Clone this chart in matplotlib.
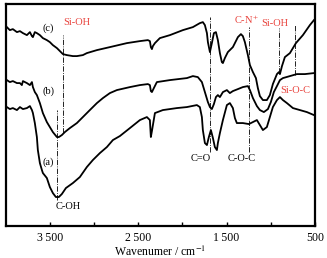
import numpy as np
import matplotlib
matplotlib.use('Agg')
import matplotlib.pyplot as plt
from matplotlib.ticker import FixedLocator

plt.rcParams['font.family'] = ['Liberation Serif', 'DejaVu Serif']
plt.rcParams['mathtext.fontset'] = 'stix'

# curve (a)
wn_a = [3989, 3955, 3921, 3875, 3841, 3807, 3762, 3728, 3705, 3694, 3672, 3649, 3638, 3615,
        3592, 3581, 3536, 3502, 3468, 3434, 3400, 3366, 3320, 3241, 3162, 3083, 3015, 2935,
        2856, 2788, 2709, 2595, 2482, 2403, 2369, 2358, 2346, 2312, 2222, 2063, 1950, 1837,
        1803, 1780, 1769, 1746, 1723, 1701, 1678, 1655, 1633, 1610, 1599, 1576, 1542, 1497,
        1463, 1429, 1406, 1384, 1316, 1248, 1202, 1157, 1123, 1089, 1044, 1010, 976, 930,
        896, 862, 817, 749, 670, 591, 511]
t_a = [119, 117, 118, 116, 119, 117, 118, 120, 116, 113, 103, 89, 76, 63,
       56, 53, 48, 39, 33, 29, 29, 32, 38, 43, 49, 59, 66, 73,
       79, 86, 90, 98, 106, 109, 106, 89, 95, 113, 116, 118, 119, 121,
       119, 109, 96, 83, 81, 89, 96, 88, 79, 76, 83, 93, 106, 121,
       123, 118, 108, 103, 103, 102, 104, 106, 101, 96, 99, 109, 119, 126,
       129, 126, 123, 118, 116, 114, 111]

# curve (b)
wn_b = [3989, 3955, 3921, 3875, 3841, 3819, 3807, 3762, 3728, 3705, 3694, 3672, 3649, 3615,
        3581, 3536, 3502, 3468, 3422, 3400, 3366, 3332, 3275, 3196, 3128, 3049, 2969, 2901,
        2822, 2743, 2595, 2482, 2392, 2369, 2358, 2346, 2324, 2290, 2142, 1950, 1882, 1826,
        1780, 1746, 1712, 1689, 1667, 1644, 1621, 1599, 1576, 1542, 1497, 1463, 1429, 1372,
        1316, 1259, 1236, 1202, 1157, 1123, 1078, 1032, 999, 965, 930, 896, 862, 783,
        704, 613, 511]
t_b = [146, 144, 145, 143, 143, 141, 145, 143, 141, 144, 139, 134, 131, 123,
       113, 104, 99, 94, 89, 89, 91, 94, 98, 103, 109, 116, 123, 128,
       133, 136, 139, 141, 142, 141, 135, 134, 138, 144, 146, 148, 150, 149,
       144, 134, 124, 119, 117, 122, 129, 131, 129, 134, 136, 133, 135, 137,
       139, 140, 136, 128, 120, 116, 114, 117, 124, 134, 140, 146, 148, 150,
       152, 152, 153]

# curve (c)
wn_c = [3989, 3955, 3921, 3875, 3841, 3807, 3762, 3728, 3705, 3694, 3672, 3649, 3615, 3581,
        3536, 3502, 3468, 3422, 3388, 3354, 3309, 3241, 3196, 3128, 3083, 2969, 2822, 2629,
        2482, 2392, 2369, 2358, 2346, 2335, 2312, 2256, 2142, 1995, 1882, 1803, 1769, 1746,
        1723, 1712, 1689, 1667, 1644, 1621, 1599, 1576, 1554, 1542, 1520, 1486, 1429, 1372,
        1338, 1316, 1293, 1259, 1236, 1202, 1168, 1146, 1123, 1089, 1044, 1010, 976, 930,
        908, 896, 873, 840, 783, 715, 636, 557, 511]
t_c = [199, 196, 197, 194, 195, 193, 191, 194, 190, 189, 194, 193, 191, 188,
       186, 184, 181, 178, 175, 172, 171, 170, 170, 171, 173, 176, 179, 183,
       185, 186, 185, 179, 177, 180, 183, 188, 191, 196, 199, 203, 204, 201,
       193, 184, 174, 183, 193, 194, 186, 173, 164, 163, 168, 174, 179, 189,
       192, 190, 184, 171, 161, 154, 148, 138, 130, 126, 126, 131, 142, 152,
       154, 152, 160, 169, 173, 183, 191, 201, 206]

# band assignments: wavenumber, line top, line bottom
band_wn = [3422, 3354, 1689, 1248, 908, 726]
band_top = [116, 191, 209, 199, 198, 201]
band_bottom = [26, 93, 74, 74, 153, 151]

red = '#e8403a'

fig = plt.figure(figsize=(3.27, 2.58), dpi=100)
ax = fig.add_axes([0.018, 0.124, 0.945, 0.86])

for wn, t in [(wn_a, t_a), (wn_b, t_b), (wn_c, t_c)]:
    ax.plot(wn, t, color='black', lw=1.3)

ax.vlines(band_wn, band_bottom, band_top, colors='black', linestyles='-.', lw=0.6)

fs = 7.5
ax.text(3196, 204, 'Si-OH', color=red, fontsize=fs, ha='center', va='center')
ax.text(1282, 206, 'C-N$^{+}$', color=red, fontsize=fs, ha='center', va='center')
ax.text(953, 203, 'Si-OH', color=red, fontsize=fs, ha='center', va='center')
ax.text(726, 136, 'Si-O-C', color=red, fontsize=fs, ha='center', va='center')
ax.text(1791, 68, 'C=O', fontsize=fs, ha='center', va='center')
ax.text(1327, 68, 'C-O-C', fontsize=fs, ha='center', va='center')
ax.text(3290, 20, 'C-OH', fontsize=fs, ha='center', va='center')
ax.text(3524, 64, '(a)', fontsize=fs, ha='center', va='center')
ax.text(3513, 135, '(b)', fontsize=fs, ha='center', va='center')
ax.text(3524, 198, '(c)', fontsize=fs, ha='center', va='center')

ax.set_xlim(4000, 500)
ax.set_ylim(0, 222)
ax.set_xticks([3500, 2500, 1500, 500])
ax.set_xticklabels(['3\u2009500', '2\u2009500', '1\u2009500', '500'])
ax.xaxis.set_minor_locator(FixedLocator([3000, 2000, 1000]))
ax.tick_params(axis='x', which='both', direction='in', length=3, width=1, labelsize=8.5, pad=4, top=False)
ax.set_yticks([])
for s in ax.spines.values():
    s.set_linewidth(1.6)
ax.set_xlabel('Wavenumer / cm$^{-1}$', fontsize=8.5, labelpad=1)

fig.savefig('out.png', dpi=100)
